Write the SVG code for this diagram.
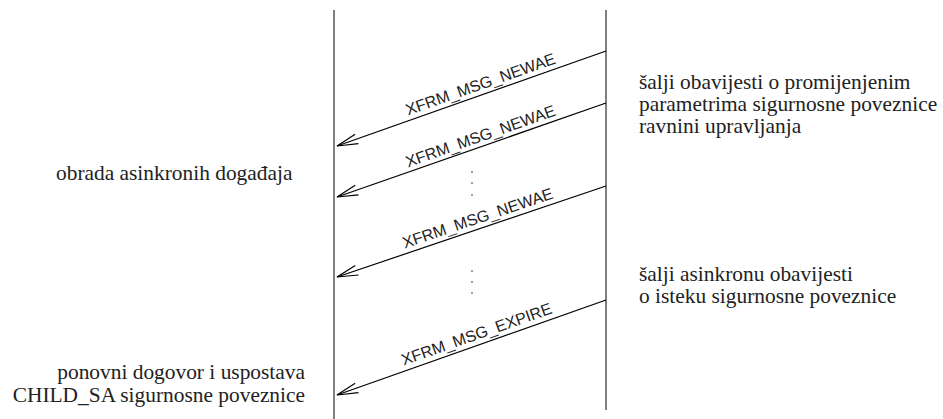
<svg xmlns="http://www.w3.org/2000/svg" width="943" height="419" viewBox="0 0 943 419">
<defs>
<marker id="open" markerUnits="userSpaceOnUse" markerWidth="30" markerHeight="20" refX="0" refY="0" viewBox="-25 -10 30 20" orient="auto" overflow="visible">
<path d="M -21,-5 L 0,0 L -21,5" fill="none" stroke="#000" stroke-width="1.2"/>
</marker>
</defs>
<style>
.life{stroke:#000;stroke-width:1;fill:none}
.msg{stroke:#000;stroke-width:1.2;fill:none;marker-end:url(#open)}
.lbl{font-family:"Liberation Sans",Arial,sans-serif;font-size:16px;fill:#222;text-anchor:middle}
.note{font-family:"Liberation Serif","Times New Roman",serif;font-size:21.4px;fill:#222}
.dot{fill:#000}
</style>
<g id="lifeline-left"><line class="life" x1="334" y1="10" x2="334" y2="419"/></g>
<g id="lifeline-right"><line class="life" x1="606" y1="10" x2="606" y2="410"/></g>
<g id="connectors">
<line class="msg" x1="606" y1="51" x2="337" y2="146"/>
<line class="msg" x1="606" y1="103" x2="337" y2="197"/>
<line class="msg" x1="606" y1="186" x2="337" y2="277"/>
<line class="msg" x1="606" y1="300" x2="337" y2="395"/>
<text class="lbl" transform="translate(484,94) rotate(-19.4)" y="-5">XFRM_MSG_NEWAE</text>
<text class="lbl" transform="translate(484,146) rotate(-19.4)" y="-5">XFRM_MSG_NEWAE</text>
<text class="lbl" transform="translate(481,228) rotate(-18.6)" y="-5">XFRM_MSG_NEWAE</text>
<text class="lbl" transform="translate(480,344) rotate(-19.4)" y="-5">XFRM_MSG_EXPIRE</text>
</g>
<g id="dots">
<circle class="dot" cx="472" cy="172" r="0.7"/>
<circle class="dot" cx="472" cy="183" r="0.7"/>
<circle class="dot" cx="472" cy="195" r="0.7"/>
<circle class="dot" cx="472" cy="271" r="0.7"/>
<circle class="dot" cx="472" cy="282" r="0.7"/>
<circle class="dot" cx="472" cy="293" r="0.7"/>
</g>
<g id="note-right-1">
<text class="note" x="639" y="89">šalji obavijesti o promijenjenim</text>
<text class="note" x="639" y="111">parametrima sigurnosne poveznice</text>
<text class="note" x="639" y="133">ravnini upravljanja</text>
</g>
<g id="note-left-1">
<text class="note" x="56" y="180">obrada asinkronih događaja</text>
</g>
<g id="note-right-2">
<text class="note" x="639" y="281">šalji asinkronu obavijesti</text>
<text class="note" x="639" y="303">o isteku sigurnosne poveznice</text>
</g>
<g id="note-left-2">
<text class="note" x="305" y="379" text-anchor="end">ponovni dogovor i uspostava</text>
<text class="note" x="305" y="402" text-anchor="end">CHILD_SA sigurnosne poveznice</text>
</g>
</svg>
